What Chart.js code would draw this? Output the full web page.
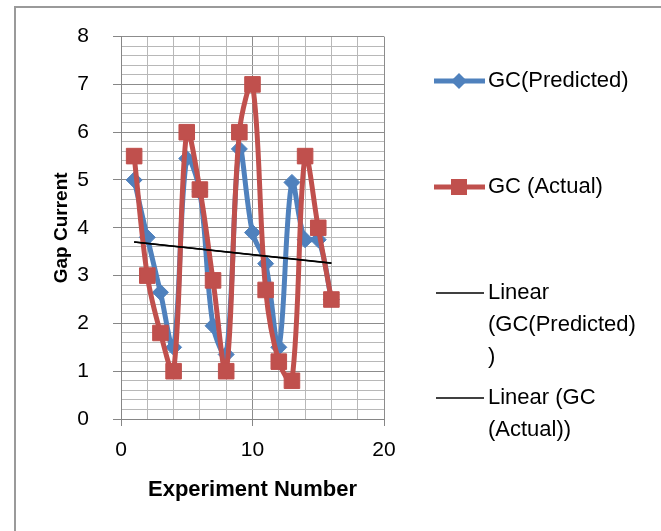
<!DOCTYPE html>
<html>
<head>
<meta charset="utf-8">
<script src="https://cdn.jsdelivr.net/npm/chart.js@4"></script>
<style>
  html, body { margin: 0; padding: 0; background: #fff; }
  #wrap { position: relative; width: 661px; height: 531px; overflow: hidden; }
  #frame { position: absolute; left: 14px; top: 6px; width: 700px; height: 600px; border: 2px solid #9a9a9a; }
  #chart { position: absolute; left: 0; top: 0; }
</style>
</head>
<body>
<div id="wrap">
  <div id="frame"></div>
  <canvas id="chart" width="661" height="531"></canvas>
</div>
<script>
var experiments = [1, 2, 3, 4, 5, 6, 7, 8, 9, 10, 11, 12, 13, 14, 15, 16]
var gcPredicted = [5.0, 3.8, 2.65, 1.5, 5.45, 4.75, 1.95, 1.35, 5.65, 3.9, 3.25, 1.5, 4.95, 3.75, 3.75, 2.5]
var gcActual = [5.5, 3.0, 1.8, 1.0, 6.0, 4.8, 2.9, 1.0, 6.0, 7.0, 2.7, 1.2, 0.8, 5.5, 4.0, 2.5]
var legendLabels = [
  ['GC(Predicted)'],
  ['GC (Actual)'],
  ['Linear', '(GC(Predicted)', ')'],
  ['Linear (GC', '(Actual))']
]

var BLUE = '#4F81BD'
var RED = '#C0504D'
var FONT = "'Liberation Sans', Arial, sans-serif"

function toPoints (xs, ys) {
  return xs.map(function (x, i) { return { x: x, y: ys[i] } })
}

// least squares trendline, like the "Linear" trendline in the original
function trendline (xs, ys) {
  var n = xs.length
  var mx = 0, my = 0
  for (var i = 0; i < n; i++) { mx += xs[i]; my += ys[i] }
  mx /= n; my /= n
  var sxy = 0, sxx = 0
  for (var j = 0; j < n; j++) {
    sxy += (xs[j] - mx) * (ys[j] - my)
    sxx += (xs[j] - mx) * (xs[j] - mx)
  }
  var slope = sxy / sxx
  var x0 = xs[0], x1 = xs[n - 1]
  return [
    { x: x0, y: my + slope * (x0 - mx) },
    { x: x1, y: my + slope * (x1 - mx) }
  ]
}

var legendPlugin = {
  id: 'sideLegend',
  afterDraw: function (chart) {
    var ctx = chart.ctx
    var rows = [81, 187, 293, 398]
    var lineGap = 32
    ctx.save()
    ctx.font = '22px ' + FONT
    ctx.textBaseline = 'middle'
    ctx.fillStyle = '#000'

    rows.forEach(function (y, k) {
      ctx.beginPath()
      if (k < 2) {
        ctx.strokeStyle = k === 0 ? BLUE : RED
        ctx.lineWidth = 5
        ctx.moveTo(434, y)
        ctx.lineTo(485, y)
        ctx.stroke()
        ctx.fillStyle = k === 0 ? BLUE : RED
        ctx.beginPath()
        if (k === 0) {
          ctx.moveTo(459, y - 8); ctx.lineTo(467, y); ctx.lineTo(459, y + 8); ctx.lineTo(451, y)
        } else {
          ctx.rect(451, y - 8, 16, 16)
        }
        ctx.closePath()
        ctx.fill()
      } else {
        ctx.strokeStyle = '#000'
        ctx.lineWidth = 1.5
        ctx.moveTo(436, y)
        ctx.lineTo(484, y)
        ctx.stroke()
      }
      ctx.fillStyle = '#000'
      legendLabels[k].forEach(function (line, m) {
        ctx.fillText(line, 488, y + m * lineGap)
      })
    })
    ctx.restore()
  }
}

function isWhole (v) {
  return Math.abs(v - Math.round(v)) < 1e-9
}

var canvas = document.getElementById('chart')
new Chart(canvas, {
  type: 'scatter',
  data: {
    datasets: [
      {
        label: 'Linear (GC(Predicted))',
        data: trendline(experiments, gcPredicted),
        showLine: true,
        borderColor: '#000',
        borderWidth: 1.5,
        pointRadius: 0
      },
      {
        label: 'Linear (GC (Actual))',
        data: trendline(experiments, gcActual),
        showLine: true,
        borderColor: '#000',
        borderWidth: 1.5,
        pointRadius: 0
      },
      {
        label: 'GC (Actual)',
        data: toPoints(experiments, gcActual),
        showLine: true,
        tension: 0.35,
        borderColor: RED,
        backgroundColor: RED,
        borderWidth: 5,
        pointStyle: 'rect',
        pointRadius: 11,
        pointBorderWidth: 1,
        pointBorderColor: RED,
        pointBackgroundColor: RED
      },
      {
        label: 'GC(Predicted)',
        data: toPoints(experiments, gcPredicted),
        showLine: true,
        tension: 0.35,
        borderColor: BLUE,
        backgroundColor: BLUE,
        borderWidth: 5,
        pointStyle: 'rectRot',
        pointRadius: 8,
        pointBorderWidth: 1,
        pointBorderColor: BLUE,
        pointBackgroundColor: BLUE
      }
    ]
  },
  options: {
    responsive: false,
    animation: false,
    layout: { padding: { left: 0, top: 35, right: 277, bottom: 0 } },
    plugins: {
      legend: { display: false },
      tooltip: { enabled: false }
    },
    scales: {
      x: {
        type: 'linear',
        min: 0,
        max: 20,
        afterFit: function (scale) { scale.height = 112 },
        ticks: {
          stepSize: 2,
          autoSkip: false,
          maxRotation: 0,
          padding: 12,
          color: '#000',
          font: { family: FONT, size: 21 },
          callback: function (v) { return v % 10 === 0 ? String(v) : '' }
        },
        grid: {
          tickLength: 7,
          color: function (c) { return c.tick && c.tick.value % 10 === 0 ? '#8c8c8c' : '#b8b8b8' },
          tickColor: function (c) { return c.tick && c.tick.value % 10 === 0 ? '#868686' : 'rgba(0,0,0,0)' }
        },
        border: { color: '#868686', width: 1 },
        title: {
          display: true,
          text: 'Experiment Number',
          color: '#000',
          font: { family: FONT, size: 22, weight: 'bold' },
          padding: { top: 0, bottom: 28 }
        }
      },
      y: {
        type: 'linear',
        min: 0,
        max: 8,
        afterFit: function (scale) { scale.width = 121 },
        ticks: {
          stepSize: 0.2,
          autoSkip: false,
          padding: 24,
          color: '#000',
          font: { family: FONT, size: 21 },
          callback: function (v) { return isWhole(v) ? String(Math.round(v)) : '' }
        },
        grid: {
          tickLength: 8,
          color: function (c) { return c.tick && isWhole(c.tick.value) ? '#8c8c8c' : '#b8b8b8' },
          tickColor: function (c) { return c.tick && isWhole(c.tick.value) ? '#868686' : 'rgba(0,0,0,0)' }
        },
        border: { color: '#868686', width: 1 },
        title: {
          display: true,
          text: 'Gap Current',
          color: '#000',
          font: { family: FONT, size: 19, weight: 'bold' },
          padding: { top: 50, bottom: 0 }
        }
      }
    }
  },
  plugins: [legendPlugin]
})
</script>
</body>
</html>
